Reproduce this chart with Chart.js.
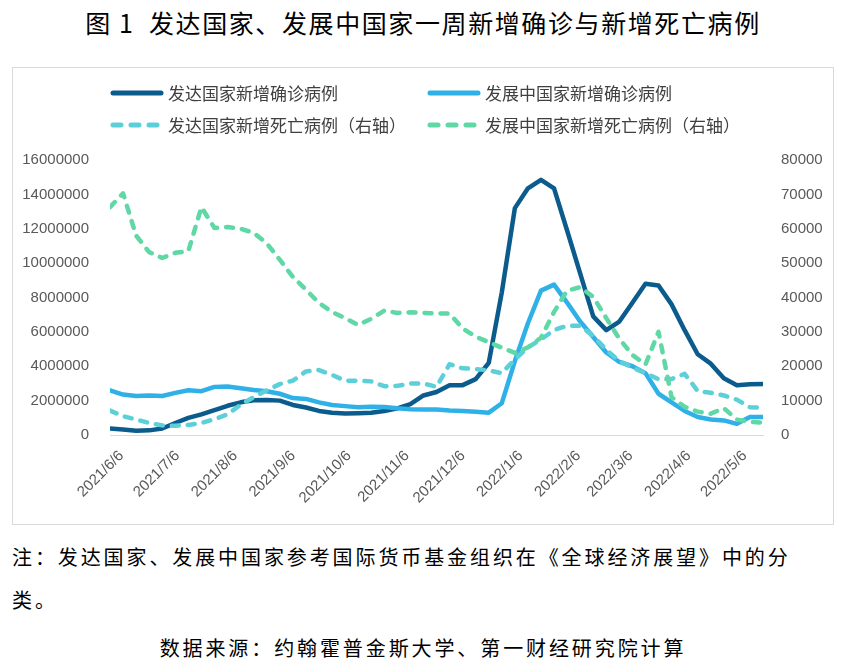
<!DOCTYPE html>
<html>
<head>
<meta charset="utf-8">
<script src="https://cdn.jsdelivr.net/npm/chart.js@4"></script>
<style>
  body { margin: 0; width: 846px; height: 667px; background: #fff; position: relative; overflow: hidden;
         font-family: "Noto Sans CJK SC", sans-serif; }
  #title { position: absolute; top: 6px; left: 0; width: 846px; text-align: center; font-size: 25px;
           letter-spacing: 1.6px; color: #000; line-height: 32px; }
  #box { position: absolute; left: 12px; top: 67px; width: 820px; height: 456px; border: 1px solid #d9d9d9; }
  #legend { position: absolute; left: 110px; top: 80px; width: 680px; }
  .item { position: absolute; display: flex; align-items: center; font-size: 17px; color: #404040; white-space: nowrap; }
  .item svg { margin-right: 4px; }
  .note { position: absolute; left: 12px; font-size: 20px; letter-spacing: 2.9px; color: #000; line-height: 24px; }
</style>
</head>
<body>
<div id="title">图 1&nbsp;&nbsp;发达国家、发展中国家一周新增确诊与新增死亡病例</div>
<div id="box"><canvas id="covidChart" width="820" height="456"></canvas></div>
<div id="legend"></div>
<div class="note" style="top:545px">注：发达国家、发展中国家参考国际货币基金组织在《全球经济展望》中的分</div>
<div class="note" style="top:588px">类。</div>
<div class="note" style="top:636px; left:0; width:846px; text-align:center;">数据来源：约翰霍普金斯大学、第一财经研究院计算</div>
<script>
// weekly dates (one point per week)
const weeks = [
  '2021/6/2', '2021/6/9', '2021/6/16', '2021/6/23', '2021/6/30',
  '2021/7/7', '2021/7/14', '2021/7/21', '2021/7/28',
  '2021/8/4', '2021/8/11', '2021/8/18', '2021/8/25',
  '2021/9/1', '2021/9/8', '2021/9/15', '2021/9/22', '2021/9/29',
  '2021/10/6', '2021/10/13', '2021/10/20', '2021/10/27',
  '2021/11/3', '2021/11/10', '2021/11/17', '2021/11/24',
  '2021/12/1', '2021/12/8', '2021/12/15', '2021/12/22', '2021/12/29',
  '2022/1/5', '2022/1/12', '2022/1/19', '2022/1/26',
  '2022/2/2', '2022/2/9', '2022/2/16', '2022/2/23',
  '2022/3/2', '2022/3/9', '2022/3/16', '2022/3/23', '2022/3/30',
  '2022/4/6', '2022/4/13', '2022/4/20', '2022/4/27',
  '2022/5/4', '2022/5/11', '2022/5/18'
];

const monthTicks = ['2021/6/6', '2021/7/6', '2021/8/6', '2021/9/6', '2021/10/6', '2021/11/6',
  '2021/12/6', '2022/1/6', '2022/2/6', '2022/3/6', '2022/4/6', '2022/5/6'];

// 发达国家新增确诊病例 (left axis)
const devCases = [
  380000, 320000, 250000, 270000, 380000, 700000, 1000000, 1200000, 1450000, 1700000,
  1900000, 2020000, 2040000, 2000000, 1750000, 1600000, 1400000, 1300000, 1250000, 1270000,
  1300000, 1400000, 1550000, 1800000, 2300000, 2500000, 2900000, 2900000, 3250000, 4200000,
  8300000, 13200000, 14350000, 14850000, 14350000, 11900000, 9400000, 6900000, 6100000, 6600000,
  7700000, 8800000, 8700000, 7600000, 6100000, 4700000, 4150000, 3300000, 2900000, 2950000, 2970000
];
// 发展中国家新增确诊病例 (left axis)
const emCases = [
  2600000, 2350000, 2270000, 2300000, 2270000, 2450000, 2600000, 2550000, 2800000, 2820000,
  2720000, 2620000, 2550000, 2400000, 2150000, 2100000, 1900000, 1750000, 1680000, 1620000,
  1650000, 1630000, 1550000, 1500000, 1480000, 1480000, 1420000, 1400000, 1350000, 1300000,
  1850000, 4300000, 6500000, 8400000, 8750000, 7700000, 6600000, 5700000, 4800000, 4250000,
  4000000, 3600000, 2400000, 1900000, 1400000, 1050000, 900000, 850000, 650000, 1050000, 1050000
];
// 发达国家新增死亡病例 (right axis)
const devDeaths = [
  7100, 5500, 4500, 3500, 2800, 2700, 2900, 3500, 4600, 6000,
  8800, 11000, 13000, 14800, 15800, 18500, 18900, 17500, 15800, 15800,
  15600, 14200, 14300, 15000, 15000, 14000, 20600, 19400, 19200, 18800,
  18000, 22000, 25500, 27800, 30500, 31800, 31800, 28800, 24800, 21500,
  19600, 18000, 16200, 16300, 17800, 12800, 12300, 11500, 10300, 8100, 7900
];
// 发展中国家新增死亡病例 (right axis)
const emDeaths = [
  66300, 70300, 58000, 53200, 51500, 53000, 53500, 66300, 60200, 60500,
  60000, 58800, 55800, 51000, 46000, 42300, 38400, 35800, 34000, 32000,
  33800, 36200, 35500, 35700, 35500, 35400, 35300, 31000, 28600, 27000,
  25400, 23900, 25500, 28300, 35800, 42000, 43000, 40200, 34000, 28000,
  23300, 20500, 30000, 11000, 8200, 6800, 6200, 7800, 4500, 3800, 3600
];

const seriesNames = ['发达国家新增确诊病例', '发展中国家新增确诊病例', '发达国家新增死亡病例（右轴）', '发展中国家新增死亡病例（右轴）'];
const seriesColors = ['#0b5c8c', '#2fb0e6', '#5dcfd8', '#5fd8a6'];

const base = Date.UTC(2021, 5, 2);
function dayOf(s) {
  const p = s.split('/').map(Number);
  return (Date.UTC(p[0], p[1] - 1, p[2]) - base) / 86400000;
}
function points(values) {
  return values.map((v, i) => ({ x: dayOf(weeks[i]), y: v }));
}

const dashPattern = [7, 9];
const datasets = [
  { data: points(devCases), yAxisID: 'y', borderDash: [], order: 4 },
  { data: points(emCases), yAxisID: 'y', borderDash: [], order: 3 },
  { data: points(devDeaths), yAxisID: 'y1', borderDash: dashPattern, order: 2 },
  { data: points(emDeaths), yAxisID: 'y1', borderDash: dashPattern, order: 1 }
].map((d, i) => Object.assign(d, {
  label: seriesNames[i],
  borderColor: seriesColors[i],
  backgroundColor: seriesColors[i],
  borderWidth: 4.5,
  borderCapStyle: 'round',
  borderJoinStyle: 'round',
  pointRadius: 0,
  tension: 0,
  fill: false
}));

// legend
const legend = document.getElementById('legend');
const legendPos = [[0, 0], [317, 0], [0, 32], [317, 32]];
seriesNames.forEach((name, i) => {
  const dashed = i >= 2;
  const el = document.createElement('div');
  el.className = 'item';
  el.style.left = legendPos[i][0] + 'px';
  el.style.top = legendPos[i][1] + 'px';
  el.innerHTML = '<svg width="54" height="10"><line x1="3" y1="5" x2="51" y2="5" stroke="' + seriesColors[i] +
    '" stroke-width="5" stroke-linecap="round"' + (dashed ? ' stroke-dasharray="8 10"' : '') + '/></svg>' + name;
  legend.appendChild(el);
});

const tickFont = { family: '"Liberation Sans", sans-serif', size: 15 };

const ctx = document.getElementById('covidChart').getContext('2d');
const covidChart = new Chart(ctx, {
  type: 'line',
  data: { datasets: datasets },
  options: {
    responsive: false,
    animation: false,
    devicePixelRatio: 1,
    layout: { padding: { top: 92, left: 0, right: 0, bottom: 0 } },
    plugins: { legend: { display: false }, tooltip: { enabled: false } },
    scales: {
      x: {
        type: 'linear',
        min: 0,
        max: dayOf(weeks[weeks.length - 1]),
        grid: { display: false },
        border: { display: true, color: '#d9d9d9', width: 1 },
        afterBuildTicks: (scale) => { scale.ticks = monthTicks.map(s => ({ value: dayOf(s) })); },
        afterFit: (scale) => { scale.height = 89; },
        ticks: {
          autoSkip: false,
          maxRotation: 45,
          minRotation: 45,
          padding: 4,
          labelOffset: 4,
          color: '#595959',
          font: tickFont,
          callback: (v) => monthTicks.find(s => dayOf(s) === v) || ''
        }
      },
      y: {
        position: 'left',
        min: 0,
        max: 16000000,
        grid: { display: false },
        border: { display: false },
        afterFit: (scale) => { scale.width = 97; },
        ticks: { stepSize: 2000000, padding: 13, color: '#595959', font: tickFont, callback: (v) => String(v) }
      },
      y1: {
        position: 'right',
        min: 0,
        max: 80000,
        grid: { display: false },
        border: { display: false },
        afterFit: (scale) => { scale.width = 70; },
        ticks: { stepSize: 10000, padding: 10, color: '#595959', font: tickFont, callback: (v) => String(v) }
      }
    }
  }
});
</script>
</body>
</html>
